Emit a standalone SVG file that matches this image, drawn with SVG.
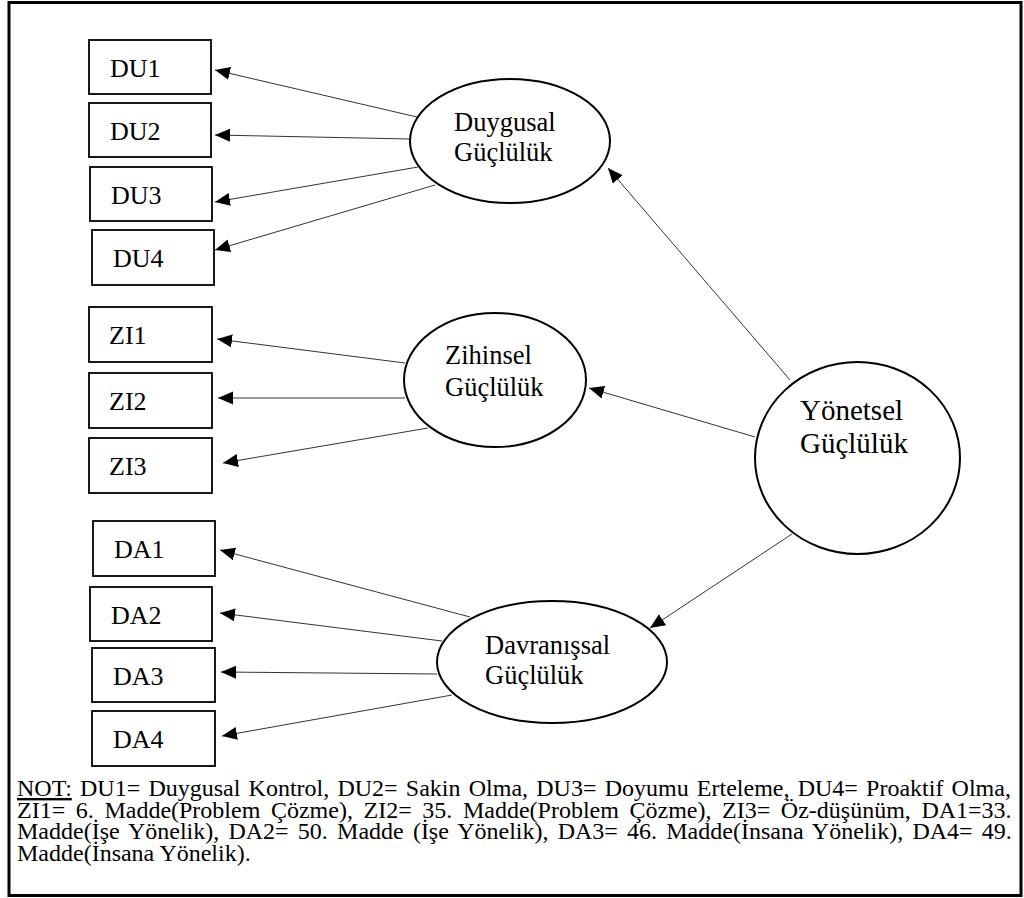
<svg xmlns="http://www.w3.org/2000/svg" width="1024" height="898" viewBox="0 0 1024 898">
  <style>
    text { font-family: "Liberation Serif", "Times New Roman", serif; fill: #000; }
    .box rect { fill: #fff; stroke: #000; stroke-width: 1.8; }
    .box text { font-size: 26px; }
    .latent ellipse { fill: #fff; stroke: #000; stroke-width: 2; }
    .latent text { font-size: 26.5px; }
    #yonetsel text { font-size: 29px; }
    #connectors line { stroke: #333; stroke-width: 1; fill: none; marker-end: url(#arrow); }
    .note text { font-size: 24px; }
  </style>
  <defs>
    <marker id="arrow" markerUnits="userSpaceOnUse" markerWidth="16" markerHeight="14" refX="15" refY="6.5" orient="auto">
      <path d="M0,0 L15,6.5 L0,13 Z" fill="#000"/>
    </marker>
  </defs>

  <rect x="9" y="2.5" width="1012" height="893" fill="#fff" stroke="#000" stroke-width="3"/>

  <!-- connectors -->
  <g id="connectors">
    <line x1="417" y1="117" x2="215" y2="70"/>
    <line x1="410" y1="139" x2="215" y2="135"/>
    <line x1="418" y1="167" x2="215" y2="202"/>
    <line x1="435" y1="185" x2="215" y2="250"/>
    <line x1="405" y1="363" x2="217" y2="339"/>
    <line x1="405" y1="398" x2="218" y2="398"/>
    <line x1="428" y1="428" x2="223" y2="463"/>
    <line x1="470" y1="617" x2="220" y2="550"/>
    <line x1="442" y1="641" x2="220" y2="613"/>
    <line x1="437" y1="674" x2="221" y2="672"/>
    <line x1="452" y1="695" x2="222" y2="736"/>
    <line x1="790" y1="380" x2="608" y2="168"/>
    <line x1="755" y1="437" x2="589" y2="388"/>
    <line x1="792" y1="534" x2="650" y2="628"/>
  </g>

  <!-- observed indicators -->
  <g id="du1" class="box"><rect x="89" y="40" width="122" height="54"/><text x="110" y="76.5">DU1</text></g>
  <g id="du2" class="box"><rect x="89" y="103" width="122" height="54"/><text x="110" y="139.5">DU2</text></g>
  <g id="du3" class="box"><rect x="90" y="167" width="122" height="54"/><text x="111" y="203.5">DU3</text></g>
  <g id="du4" class="box"><rect x="92" y="230" width="122" height="55"/><text x="113" y="266.5">DU4</text></g>
  <g id="zi1" class="box"><rect x="89" y="307" width="123" height="55"/><text x="109" y="344">ZI1</text></g>
  <g id="zi2" class="box"><rect x="89" y="373" width="123" height="55"/><text x="109" y="410">ZI2</text></g>
  <g id="zi3" class="box"><rect x="89" y="438" width="123" height="55"/><text x="109" y="475">ZI3</text></g>
  <g id="da1" class="box"><rect x="93" y="521" width="122" height="55"/><text x="114" y="557.5">DA1</text></g>
  <g id="da2" class="box"><rect x="90" y="587" width="122" height="54"/><text x="111" y="623.5">DA2</text></g>
  <g id="da3" class="box"><rect x="92" y="648" width="123" height="54"/><text x="113" y="684.5">DA3</text></g>
  <g id="da4" class="box"><rect x="92" y="711" width="123" height="55"/><text x="113" y="747.5">DA4</text></g>

  <!-- latent factors -->
  <g id="duygusal" class="latent">
    <ellipse cx="510" cy="141" rx="100" ry="62"/>
    <text x="454" y="131">Duygusal</text>
    <text x="454" y="161">Güçlülük</text>
  </g>
  <g id="zihinsel" class="latent">
    <ellipse cx="495" cy="380" rx="91" ry="67"/>
    <text x="445" y="364">Zihinsel</text>
    <text x="445" y="396">Güçlülük</text>
  </g>
  <g id="davranissal" class="latent">
    <ellipse cx="552" cy="662" rx="115" ry="61"/>
    <text x="485" y="654">Davranışsal</text>
    <text x="485" y="684">Güçlülük</text>
  </g>
  <g id="yonetsel" class="latent">
    <ellipse cx="857.5" cy="458" rx="102.5" ry="96"/>
    <text x="800" y="420">Yönetsel</text>
    <text x="800" y="453">Güçlülük</text>
  </g>

  <!-- note -->
  <g id="note" class="note">
    <text x="17" y="796" word-spacing="2.2"><tspan text-decoration="underline">NOT:</tspan> DU1= Duygusal Kontrol, DU2= Sakin Olma, DU3= Doyumu Erteleme, DU4= Proaktif Olma,</text>
    <text x="17" y="817.5" word-spacing="4.6">ZI1= 6. Madde(Problem Çözme), ZI2= 35. Madde(Problem Çözme), ZI3= Öz-düşünüm, DA1=33.</text>
    <text x="17" y="839" word-spacing="3.2">Madde(İşe Yönelik), DA2= 50. Madde (İşe Yönelik), DA3= 46. Madde(İnsana Yönelik), DA4= 49.</text>
    <text x="17" y="860.5">Madde(İnsana Yönelik).</text>
  </g>
</svg>
